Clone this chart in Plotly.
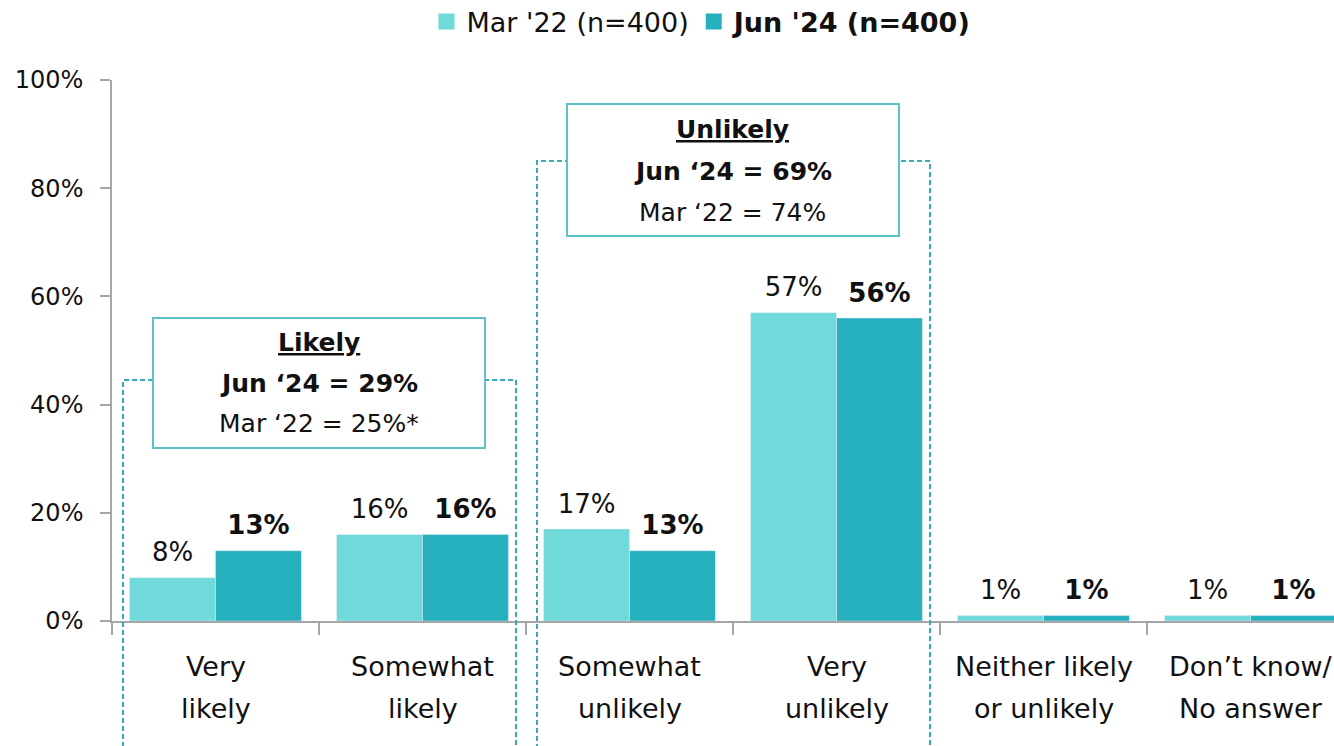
import plotly.graph_objects as go

categories = ["Very likely", "Somewhat likely", "Somewhat unlikely", "Very unlikely",
              "Neither likely or unlikely", "Don’t know/ No answer"]
cat_line1 = ["Very", "Somewhat", "Somewhat", "Very", "Neither likely", "Don’t know/"]
cat_line2 = ["likely", "likely", "unlikely", "unlikely", "or unlikely", "No answer"]
mar22 = [8, 16, 17, 57, 1, 1]
jun24 = [13, 16, 13, 56, 1, 1]
series_names = ["Mar '22 (n=400)", "Jun '24 (n=400)"]
y_ticks = [0, 20, 40, 60, 80, 100]
y_tick_labels = ["0%", "20%", "40%", "60%", "80%", "100%"]

likely_lines = ["<b><u>Likely</u></b>", "<b>Jun ‘24 = 29%</b>", "Mar ‘22 = 25%*"]
unlikely_lines = ["<b><u>Unlikely</u></b>", "<b>Jun ‘24 = 69%</b>", "Mar ‘22 = 74%"]

LIGHT = "#70d9d9"
DARK = "#26b0bd"
FONT = "DejaVu Sans"
TXT = "#111111"
W, H = 1334, 746
ML, MR, MT, MB = 112, 0, 80, 125
PW = W - ML - MR
PH = H - MT - MB


def px(x):
    return (x - ML) / PW


def py(y):
    return (H - MB - y) / PH


fig = go.Figure()
# bars
fig.add_trace(go.Bar(x=categories, y=mar22, name=series_names[0], marker_color=LIGHT,
                     offsetgroup="mar", showlegend=False, hoverinfo="skip"))
fig.add_trace(go.Bar(x=categories, y=jun24, name=series_names[1], marker_color=DARK,
                     offsetgroup="jun", showlegend=False, hoverinfo="skip"))
# data labels, grouped like the bars
fig.add_trace(go.Scatter(x=categories, y=mar22, mode="markers+text", offsetgroup="mar",
                         text=[f"{v}%" for v in mar22], textposition="top center",
                         marker=dict(size=14, color="rgba(0,0,0,0)"),
                         textfont=dict(family=FONT, size=26, color=TXT),
                         showlegend=False, hoverinfo="skip", cliponaxis=False))
fig.add_trace(go.Scatter(x=categories, y=jun24, mode="markers+text", offsetgroup="jun",
                         text=[f"<b>{v}%</b>" for v in jun24], textposition="top center",
                         marker=dict(size=14, color="rgba(0,0,0,0)"),
                         textfont=dict(family=FONT, size=26, color=TXT),
                         showlegend=False, hoverinfo="skip", cliponaxis=False))
# legend entries
fig.add_trace(go.Scatter(x=[None], y=[None], mode="markers", name=series_names[0],
                         marker=dict(symbol="square", size=20, color=LIGHT)))
fig.add_trace(go.Scatter(x=[None], y=[None], mode="markers", name="<b>" + series_names[1] + "</b>",
                         marker=dict(symbol="square", size=20, color=DARK)))

shapes = []
dash_col = "#3aaab5"
for x0, x1, ytop in [(123, 516, 380), (537, 930, 161)]:
    shapes.append(dict(type="rect", xref="paper", yref="paper", x0=px(x0), x1=px(x1),
                       y0=py(760), y1=py(ytop),
                       line=dict(color=dash_col, width=2, dash="5px,3px"),
                       fillcolor="rgba(0,0,0,0)", layer="above"))
box_col = "#5cc4c8"
for x0, x1, y0, y1 in [(153, 485, 448, 318), (567, 899, 236, 104)]:
    shapes.append(dict(type="rect", xref="paper", yref="paper", x0=px(x0), x1=px(x1),
                       y0=py(y0), y1=py(y1), line=dict(color=box_col, width=2),
                       fillcolor="white", layer="above"))

annotations = []
for lines, cx, ys in [(likely_lines, 319, [342, 383, 423]), (unlikely_lines, 733, [130, 171, 212])]:
    for t, yy in zip(lines, ys):
        annotations.append(dict(text=t, xref="paper", yref="paper", x=px(cx), y=py(yy),
                                xanchor="center", yanchor="middle", showarrow=False,
                                font=dict(family=FONT, size=25, color=TXT)))
for c, l1, l2 in zip(categories, cat_line1, cat_line2):
    for t, yy in [(l1, 666), (l2, 708)]:
        annotations.append(dict(text=t, xref="x", yref="paper", x=c, y=py(yy),
                                xanchor="center", yanchor="middle", showarrow=False,
                                font=dict(family=FONT, size=27, color=TXT)))

fig.update_layout(
    width=W, height=H,
    margin=dict(l=ML, r=MR, t=MT, b=MB, autoexpand=False),
    paper_bgcolor="white", plot_bgcolor="white",
    barmode="group", bargap=0.17, bargroupgap=0,
    scattermode="group", scattergap=0.17,
    font=dict(family=FONT, size=25, color=TXT),
    showlegend=True,
    legend=dict(orientation="h", x=px(702), y=py(22), xanchor="center", yanchor="middle",
                font=dict(family=FONT, size=27, color=TXT), traceorder="normal",
                itemwidth=30, bgcolor="rgba(0,0,0,0)"),
    shapes=shapes, annotations=annotations,
)
fig.update_yaxes(range=[0, 100], tickvals=y_ticks, ticktext=y_tick_labels, showgrid=False,
                 showline=True, linecolor="#a6a6a6", linewidth=1.5, ticks="outside",
                 ticklen=10, tickcolor="#a6a6a6", tickwidth=1.5, zeroline=False,
                 ticklabelstandoff=12, automargin=False,
                 tickfont=dict(family=FONT, size=24, color=TXT))
fig.update_xaxes(range=[-0.5, -0.5 + PW / 207], showticklabels=False, showline=True,
                 linecolor="#a6a6a6", linewidth=1.5, ticks="outside", ticklen=12,
                 tickcolor="#a6a6a6", tickwidth=1.5, tickson="boundaries", showgrid=False,
                 automargin=False)

fig.write_html("out.html", config={"displayModeBar": False},
               post_script="document.body.style.margin='0';document.body.style.overflow='hidden';")
